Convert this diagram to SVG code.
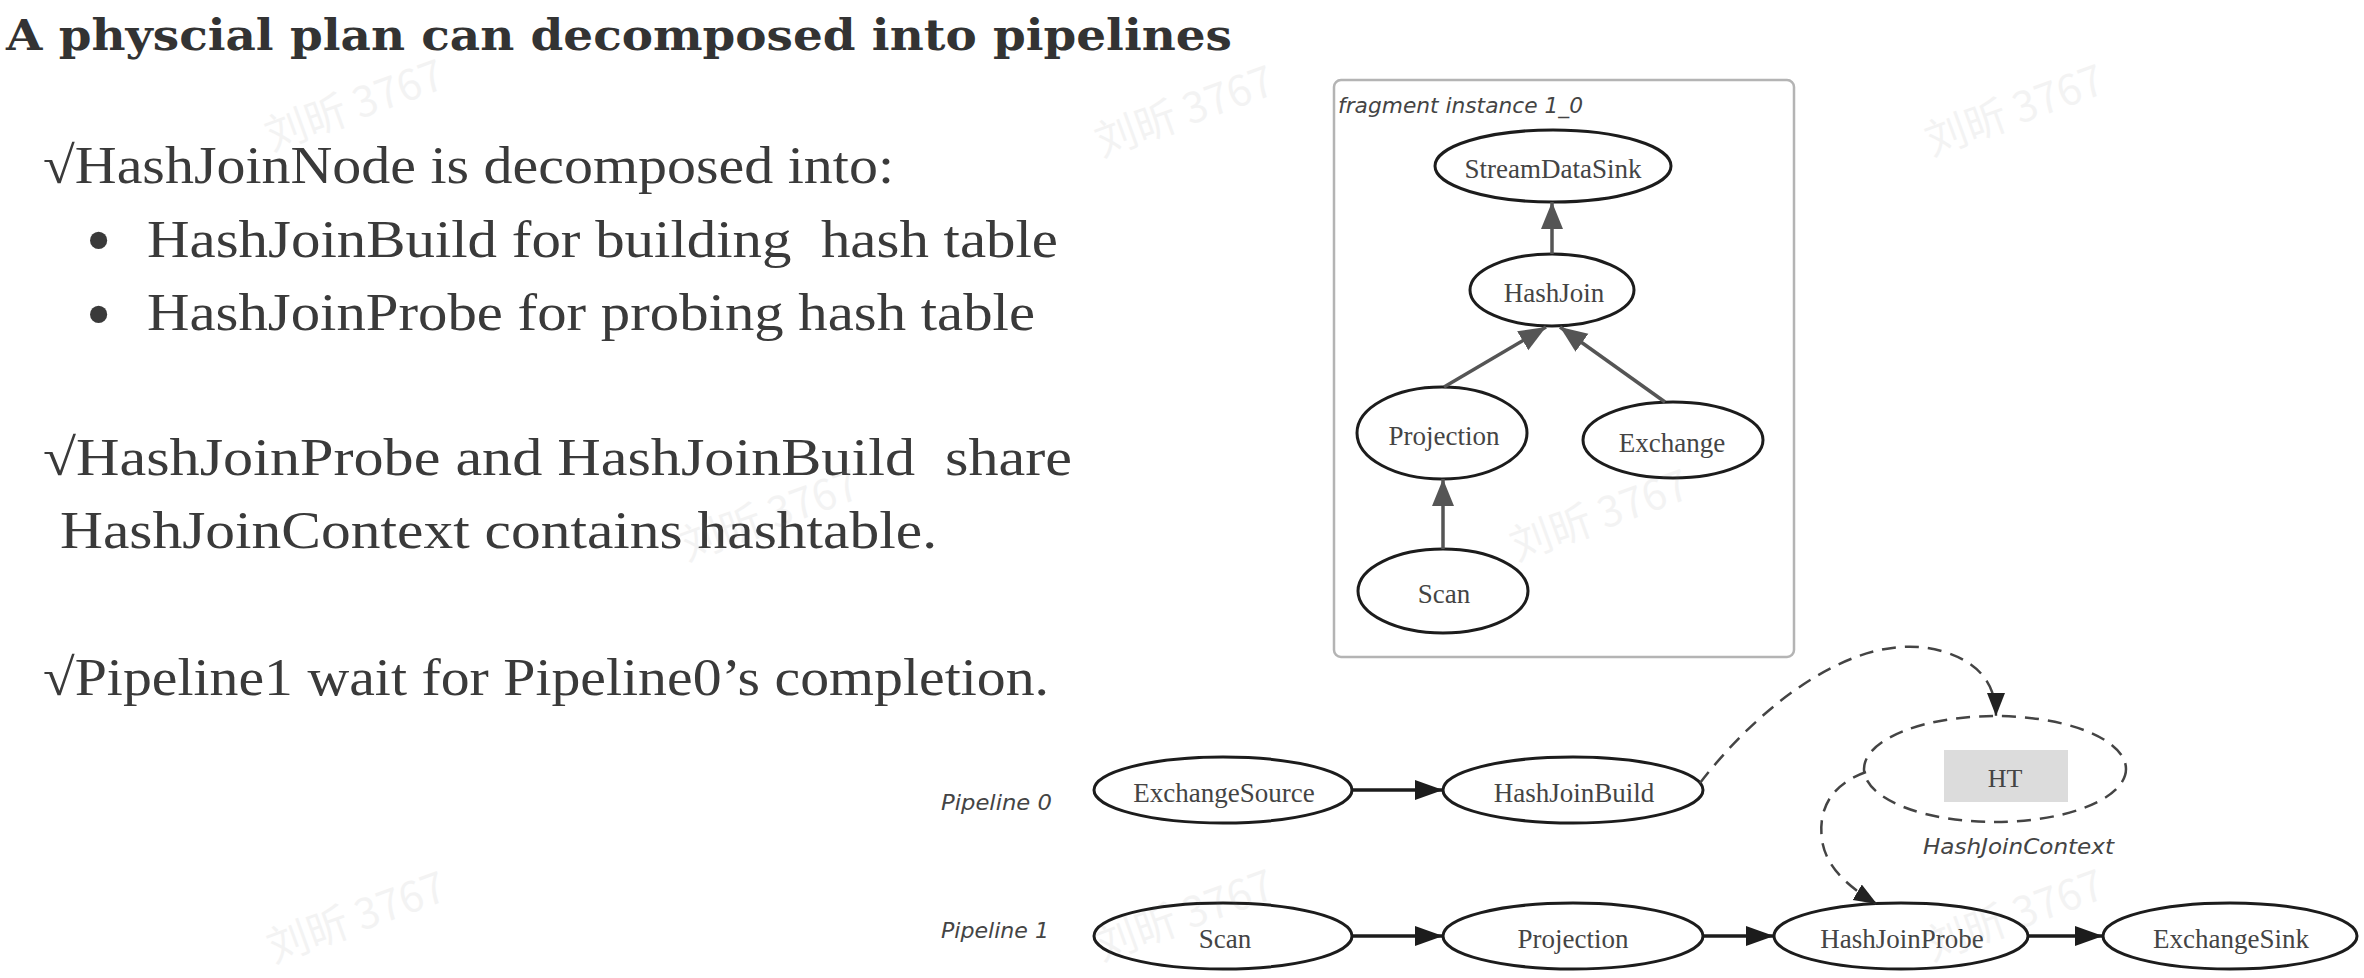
<svg xmlns="http://www.w3.org/2000/svg" width="2364" height="978" viewBox="0 0 2364 978">
<style>
.title{font-family:"DejaVu Serif",serif;font-weight:bold;font-size:42px;fill:#333}
.body{font-family:"Liberation Serif",serif;font-size:52px;fill:#3a3a3a}
.bul{font-family:"Liberation Serif",serif;font-size:72px;fill:#3a3a3a}
.node ellipse{fill:none;stroke:#1c1c1c;stroke-width:3}
.node text{font-family:"Liberation Serif",serif;font-size:27px;fill:#444;text-anchor:middle}
.lbl{font-family:"DejaVu Sans",sans-serif;font-style:italic;font-size:22px;fill:#444}
.edge{fill:none;stroke:#1c1c1c;stroke-width:3.5}
.gedge{fill:none;stroke:#555;stroke-width:3.5}
.dash{fill:none;stroke:#444;stroke-width:2.5;stroke-dasharray:14 9}
.wm{font-family:"Noto Sans CJK SC",sans-serif;font-size:42px;fill:#777;opacity:0.08}
</style>
<defs>
<marker id="ah" markerUnits="userSpaceOnUse" markerWidth="30" markerHeight="22" refX="28" refY="10" orient="auto">
<path d="M0,0 L28,10 L0,20 z" fill="#1c1c1c" stroke="none"/>
</marker>
<marker id="gah" markerUnits="userSpaceOnUse" markerWidth="30" markerHeight="24" refX="27" refY="11" orient="auto">
<path d="M0,0 L27,11 L0,22 z" fill="#555" stroke="none"/>
</marker>
<marker id="dah" markerUnits="userSpaceOnUse" markerWidth="26" markerHeight="20" refX="23" refY="9" orient="auto">
<path d="M0,0 L23,9 L0,18 z" fill="#222" stroke="none"/>
</marker>
</defs>
<rect width="2364" height="978" fill="#ffffff"/>

<g id="text-block">
<text class="title" x="6" y="50" textLength="1226" lengthAdjust="spacingAndGlyphs">A physcial plan can decomposed into pipelines</text>
<text class="body" x="43" y="183" textLength="851" lengthAdjust="spacingAndGlyphs">√HashJoinNode is decomposed into:</text>
<text class="bul" x="86" y="264">•</text>
<text class="body" x="147" y="257" xml:space="preserve" textLength="911" lengthAdjust="spacingAndGlyphs">HashJoinBuild for building  hash table</text>
<text class="bul" x="86" y="338">•</text>
<text class="body" x="147" y="330" textLength="888" lengthAdjust="spacingAndGlyphs">HashJoinProbe for probing hash table</text>
<text class="body" x="43" y="475" xml:space="preserve" textLength="1029" lengthAdjust="spacingAndGlyphs">√HashJoinProbe and HashJoinBuild  share</text>
<text class="body" x="60" y="548" textLength="877" lengthAdjust="spacingAndGlyphs">HashJoinContext contains hashtable.</text>
<text class="body" x="43" y="695" textLength="1006" lengthAdjust="spacingAndGlyphs">√Pipeline1 wait for Pipeline0’s completion.</text>
</g>

<g id="fragment">
<rect x="1334" y="80" width="460" height="577" rx="7" fill="none" stroke="#b4b4b4" stroke-width="2.5"/>
<text class="lbl" x="1338" y="113" font-size="21" textLength="245" lengthAdjust="spacingAndGlyphs">fragment instance 1_0</text>
</g>

<g id="f-streamdatasink" class="node"><ellipse cx="1553" cy="166" rx="118" ry="36"/><text x="1553" y="178">StreamDataSink</text></g>
<g id="f-hashjoin" class="node"><ellipse cx="1552" cy="290" rx="82" ry="36"/><text x="1554" y="302">HashJoin</text></g>
<g id="f-projection" class="node"><ellipse cx="1442" cy="433" rx="85" ry="46"/><text x="1444" y="445">Projection</text></g>
<g id="f-exchange" class="node"><ellipse cx="1673" cy="440" rx="90" ry="38"/><text x="1672" y="452">Exchange</text></g>
<g id="f-scan" class="node"><ellipse cx="1443" cy="591" rx="85" ry="42"/><text x="1444" y="603">Scan</text></g>

<g id="p-exchangesource" class="node"><ellipse cx="1223" cy="790" rx="129" ry="33"/><text x="1224" y="802">ExchangeSource</text></g>
<g id="p-hashjoinbuild" class="node"><ellipse cx="1573" cy="790" rx="130" ry="33"/><text x="1574" y="802">HashJoinBuild</text></g>
<g id="p-scan" class="node"><ellipse cx="1223" cy="936" rx="129" ry="33"/><text x="1225" y="948">Scan</text></g>
<g id="p-projection" class="node"><ellipse cx="1573" cy="936" rx="130" ry="33"/><text x="1573" y="948">Projection</text></g>
<g id="p-hashjoinprobe" class="node"><ellipse cx="1901" cy="936" rx="127" ry="33"/><text x="1902" y="948">HashJoinProbe</text></g>
<g id="p-exchangesink" class="node"><ellipse cx="2230" cy="936" rx="127" ry="33"/><text x="2231" y="948">ExchangeSink</text></g>

<g id="hashjoincontext">
<ellipse cx="1995" cy="769" rx="131" ry="53" fill="none" stroke="#444" stroke-width="2.5" stroke-dasharray="14 9"/>
<rect x="1944" y="750" width="124" height="52" fill="#dcdcdc"/>
<text x="2005" y="787" font-family="Liberation Serif, serif" font-size="26" fill="#444" text-anchor="middle">HT</text>
<text class="lbl" x="1923" y="854" textLength="191" lengthAdjust="spacingAndGlyphs">HashJoinContext</text>
</g>

<g id="pipeline-labels">
<text class="lbl" x="941" y="810" textLength="111" lengthAdjust="spacingAndGlyphs">Pipeline 0</text>
<text class="lbl" x="941" y="938" textLength="108" lengthAdjust="spacingAndGlyphs">Pipeline 1</text>
</g>

<g id="connectors">
<path class="gedge" d="M1552,254 L1552,202" marker-end="url(#gah)"/>
<path class="gedge" d="M1444,387 L1546,327" marker-end="url(#gah)"/>
<path class="gedge" d="M1665,402 L1560,327" marker-end="url(#gah)"/>
<path class="gedge" d="M1443,549 L1443,479" marker-end="url(#gah)"/>
<path class="edge" d="M1352,790 L1443,790" marker-end="url(#ah)"/>
<path class="edge" d="M1352,936 L1443,936" marker-end="url(#ah)"/>
<path class="edge" d="M1703,936 L1774,936" marker-end="url(#ah)"/>
<path class="edge" d="M2028,936 L2103,936" marker-end="url(#ah)"/>
<path class="dash" d="M1700,783 C1760,705 1860,625 1945,652 C1985,665 1996,690 1996,716" marker-end="url(#dah)"/>
<path class="dash" d="M1866,772 C1830,785 1818,810 1822,840 C1826,868 1850,888 1877,904" marker-end="url(#dah)"/>
</g>

<g id="watermarks">
<text class="wm" x="355" y="120" text-anchor="middle" transform="rotate(-20 355 107)">刘昕 3767</text>
<text class="wm" x="1185" y="126" text-anchor="middle" transform="rotate(-20 1185 113)">刘昕 3767</text>
<text class="wm" x="2015" y="125" text-anchor="middle" transform="rotate(-20 2015 112)">刘昕 3767</text>
<text class="wm" x="770" y="530" text-anchor="middle" transform="rotate(-20 770 517)">刘昕 3767</text>
<text class="wm" x="1600" y="530" text-anchor="middle" transform="rotate(-20 1600 517)">刘昕 3767</text>
<text class="wm" x="357" y="932" text-anchor="middle" transform="rotate(-20 357 919)">刘昕 3767</text>
<text class="wm" x="1185" y="930" text-anchor="middle" transform="rotate(-20 1185 917)">刘昕 3767</text>
<text class="wm" x="2015" y="930" text-anchor="middle" transform="rotate(-20 2015 917)">刘昕 3767</text>
</g>
</svg>
